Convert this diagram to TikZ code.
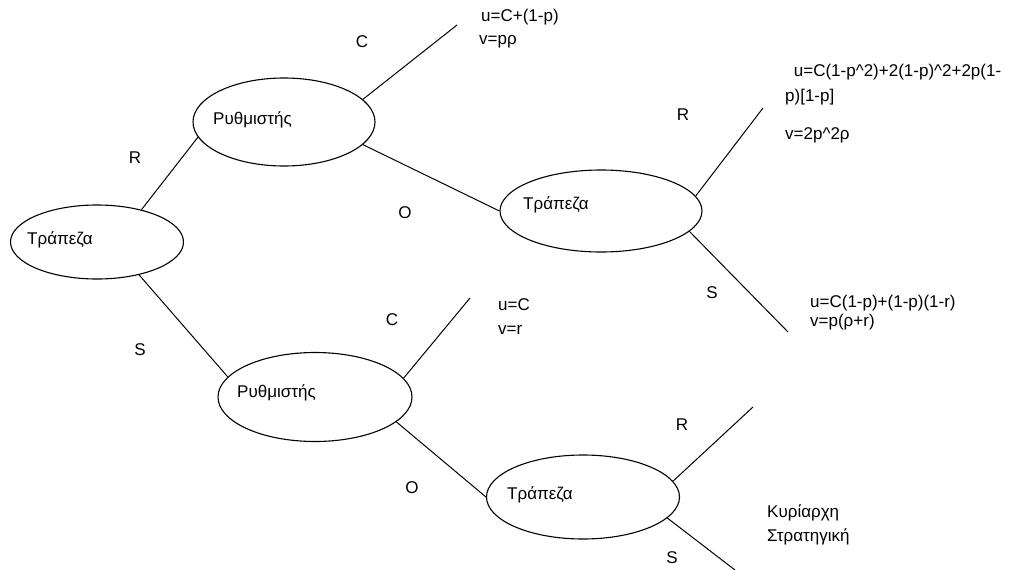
\documentclass[tikz,border=0pt]{standalone}
\usepackage{fontspec}
\setmainfont{Liberation Sans}
\usetikzlibrary{shapes.geometric}
\begin{document}
\begin{tikzpicture}[x=1pt,y=-1pt,
  oval/.style={draw, ellipse, inner sep=0pt, line width=1.1pt},
  lbl/.style={font=\fontsize{17}{20}\selectfont, inner sep=0pt},
  txt/.style={font=\fontsize{17}{20}\selectfont, inner sep=0pt, anchor=west},
  edge/.style={line width=1pt}]
\useasboundingbox (0,0) rectangle (1021,570);
% ellipses
\node[oval, minimum width=173pt, minimum height=74pt] (b1) at (97,242) {};
\node[oval, minimum width=182pt, minimum height=88pt] (r1) at (284,122) {};
\node[oval, minimum width=202pt, minimum height=82pt] (b2) at (601,211) {};
\node[oval, minimum width=194pt, minimum height=89pt] (r2) at (315,397) {};
\node[oval, minimum width=193pt, minimum height=84pt] (b3) at (583,497) {};
% ellipse texts
\node[txt] (b1t) at (27,240) {Τράπεζα};
\node[txt] (r1t) at (213,120) {Ρυθμιστής};
\node[txt] (b2t) at (523,205) {Τράπεζα};
\node[txt] (r2t) at (237,393) {Ρυθμιστής};
\node[txt] (b3t) at (507,495) {Τράπεζα};
% free ends
\coordinate (c1) at (457,25);
\coordinate (m1) at (763,108);
\coordinate (m2) at (788,332);
\coordinate (c2) at (470,298);
\coordinate (n1) at (753,407);
\coordinate (n2) at (735,570);
% connectors
\draw[edge] (b1.36) -- (r1.190);
\draw[edge] (b1.-38) -- (r2.167);
\draw[edge] (r1.16) -- (c1);
\draw[edge] (r1.-16) -- (b2.180);
\draw[edge] (b2.9.5) -- (m1);
\draw[edge] (b2.-13) -- (m2);
\draw[edge] (r2.12) -- (c2);
\draw[edge] (r2.-17) -- (b3.180);
\draw[edge] (b3.10) -- (n1);
\draw[edge] (b3.-14) -- (n2);
% edge labels
\node[lbl] (l1) at (135,158) {R};
\node[lbl] (l2) at (140,350) {S};
\node[lbl] (l3) at (362,42) {C};
\node[lbl] (l4) at (405,213) {O};
\node[lbl] (l5) at (683,115) {R};
\node[lbl] (l6) at (712,293) {S};
\node[lbl] (l7) at (392,320) {C};
\node[lbl] (l8) at (412,488) {O};
\node[lbl] (l9) at (682,425) {R};
\node[lbl] (l10) at (672,558) {S};
% payoffs
\node[txt] (p1) at (481,17) {u=C+(1-p)};
\node[txt] (p2) at (479,42) {v=pρ};
\node[txt] (p3) at (789,72) {\ u=C(1-p\textasciicircum 2)+2(1-p)\textasciicircum 2+2p(1-};
\node[txt] (p4) at (785,97) {p)[1-p]};
\node[txt] (p5) at (785,135) {v=2p\textasciicircum 2ρ};
\node[txt] (p6) at (810,303) {u=C(1-p)+(1-p)(1-r)};
\node[txt] (p7) at (810,322) {v=p(ρ+r)};
\node[txt] (p8) at (498,305) {u=C};
\node[txt] (p9) at (498,330) {v=r};
\node[txt] (p10) at (767,513) {Κυρίαρχη};
\node[txt] (p11) at (767,537) {Στρατηγική};
\end{tikzpicture}
\end{document}
